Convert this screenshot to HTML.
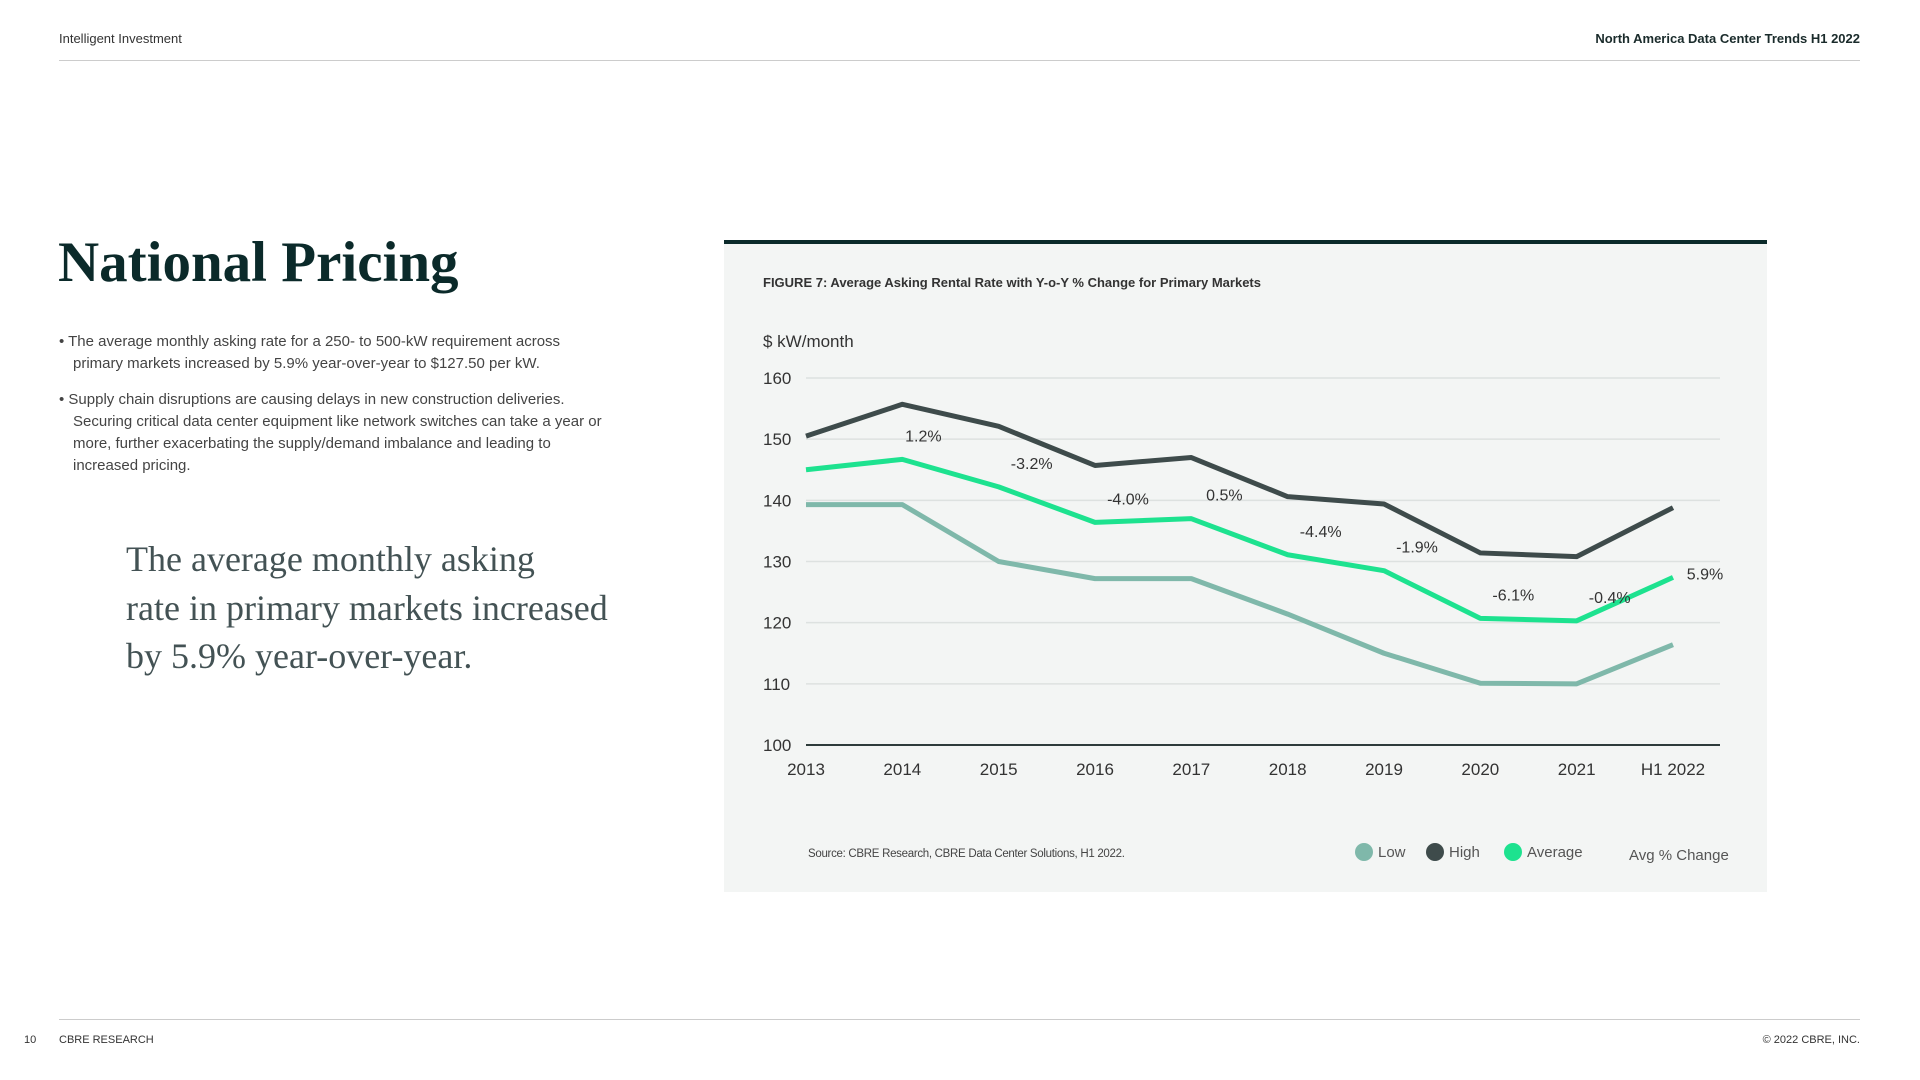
<!DOCTYPE html>
<html><head><meta charset="utf-8"><style>
body{margin:0;width:1920px;height:1080px;background:#fff;font-family:"Liberation Sans",sans-serif;position:relative;overflow:hidden}
.a{position:absolute;white-space:nowrap}
</style></head><body>
<div class="a" style="left:59px;top:31px;font-size:13px;color:#333">Intelligent Investment</div>
<div class="a" style="right:60px;top:31px;font-size:13px;color:#1a2b2b;font-weight:bold">North America Data Center Trends H1 2022</div>
<div class="a" style="left:59px;top:60px;width:1801px;height:1px;background:#ccc"></div>
<div class="a" style="left:58px;top:230px;font-family:'Liberation Serif',serif;font-size:57px;color:#0b2a2a;font-weight:bold">National Pricing</div>
<div class="a" style="left:59px;top:331px;width:550px;white-space:normal;font-size:15px;line-height:22px;color:#444">
<div style="padding-left:14px;text-indent:-14px">• The average monthly asking rate for a 250- to 500-kW requirement across primary markets increased by 5.9% year-over-year to $127.50 per kW.</div>
<div style="padding-left:14px;text-indent:-14px;margin-top:14px">• Supply chain disruptions are causing delays in new construction deliveries. Securing critical data center equipment like network switches can take a year or more, further exacerbating the supply/demand imbalance and leading to increased pricing.</div>
</div>
<div class="a" style="left:126px;top:535px;font-family:'Liberation Serif',serif;font-size:36px;line-height:48.5px;color:#435254">The average monthly asking<br>rate in primary markets increased<br>by 5.9% year-over-year.</div>

<div class="a" style="left:724px;top:240px;width:1043px;height:648px;background:#f3f5f4;border-top:4px solid #0b2a2a"></div>
<div class="a" style="left:763px;top:275px;font-size:13px;font-weight:bold;color:#333">FIGURE 7: Average Asking Rental Rate with Y-o-Y % Change for Primary Markets</div>
<div class="a" style="left:763px;top:332px;font-size:17px;color:#333">$ kW/month</div>
<svg class="a" style="left:0;top:0" width="1920" height="1080" id="svg"></svg>
<div class="a" style="left:808px;top:848px;font-size:11.5px;color:#444;letter-spacing:-0.3px">Source: CBRE Research, CBRE Data Center Solutions, H1 2022.</div>
<div class="a" style="left:1355px;top:843px;font-size:15px;color:#555"><span style="display:inline-block;width:18px;height:18px;border-radius:50%;background:#7fb8aa;vertical-align:-4px;margin-right:5px"></span>Low</div>
<div class="a" style="left:1426px;top:843px;font-size:15px;color:#555"><span style="display:inline-block;width:18px;height:18px;border-radius:50%;background:#3e4b4b;vertical-align:-4px;margin-right:5px"></span>High</div>
<div class="a" style="left:1504px;top:843px;font-size:15px;color:#555"><span style="display:inline-block;width:18px;height:18px;border-radius:50%;background:#1de28f;vertical-align:-4px;margin-right:5px"></span>Average</div>
<div class="a" style="left:1629px;top:847px;font-size:15px;color:#555">Avg % Change</div>

<div class="a" style="left:59px;top:1019px;width:1801px;height:1px;background:#ccc"></div>
<div class="a" style="left:24px;top:1034px;font-size:11px;color:#333">10</div>
<div class="a" style="left:59px;top:1034px;font-size:11px;color:#333">CBRE RESEARCH</div>
<div class="a" style="right:60px;top:1034px;font-size:11px;color:#333">© 2022 CBRE, INC.</div>

<script>
const categories=["2013","2014","2015","2016","2017","2018","2019","2020","2021","H1 2022"];
const highValues=[150.5,155.7,152.1,145.7,147,140.6,139.4,131.4,130.8,138.8];
const avgValues=[145,146.7,142.2,136.4,137,131.1,128.5,120.7,120.3,127.4];
const lowValues=[139.3,139.3,130,127.2,127.2,121.4,115,110.1,110,116.4];
const changeLabels=[null,"1.2%","-3.2%","-4.0%","0.5%","-4.4%","-1.9%","-6.1%","-0.4%","5.9%"];
const yTicks=[100,110,120,130,140,150,160];
const NS="http://www.w3.org/2000/svg";
const svg=document.getElementById('svg');
const x0=806,x1=1673,yb=745,yt=378;
const X=i=>x0+(x1-x0)*i/(categories.length-1);
const Y=v=>yb-(v-100)/60*(yb-yt);
function mk(t,a){const e=document.createElementNS(NS,t);for(const k in a)e.setAttribute(k,a[k]);svg.appendChild(e);return e;}
yTicks.forEach(v=>{
 const l=mk('line',{x1:x0,x2:1720,y1:Y(v),y2:Y(v),stroke:v===100?'#2e3b3b':'#dde1e0','stroke-width':v===100?2:1.5});
 
 
 const t=mk('text',{x:763,y:Y(v)+6,'font-size':17,fill:'#333','font-family':'Liberation Sans, sans-serif'});
 t.textContent=v;
 
 
});
categories.forEach((c,i)=>{
 const t=mk('text',{x:X(i),y:775,'font-size':17,fill:'#333','text-anchor':'middle','font-family':'Liberation Sans, sans-serif'});
 t.textContent=c;
 
 
});
function series(vals,color,name){
 const p=mk('polyline',{points:vals.map((v,i)=>X(i)+','+Y(v)).join(' '),fill:'none',stroke:color,'stroke-width':5,'stroke-linejoin':'round'});
 
 
}
series(lowValues,'#7fb8aa','line-low');
series(highValues,'#3e4b4b','line-high');
series(avgValues,'#1de28f','line-average');
changeLabels.forEach((s,i)=>{
 if(!s)return;
 let dx=33,dy=-18;
 if(i===1)dx=21;
 if(i===categories.length-1){dx=32;dy=2;}
 const t=mk('text',{x:X(i)+dx,y:Y(avgValues[i])+dy,'font-size':16,fill:'#333','text-anchor':'middle','font-family':'Liberation Sans, sans-serif'});
 t.textContent=s;
 
 
});
</script>
</body></html>
